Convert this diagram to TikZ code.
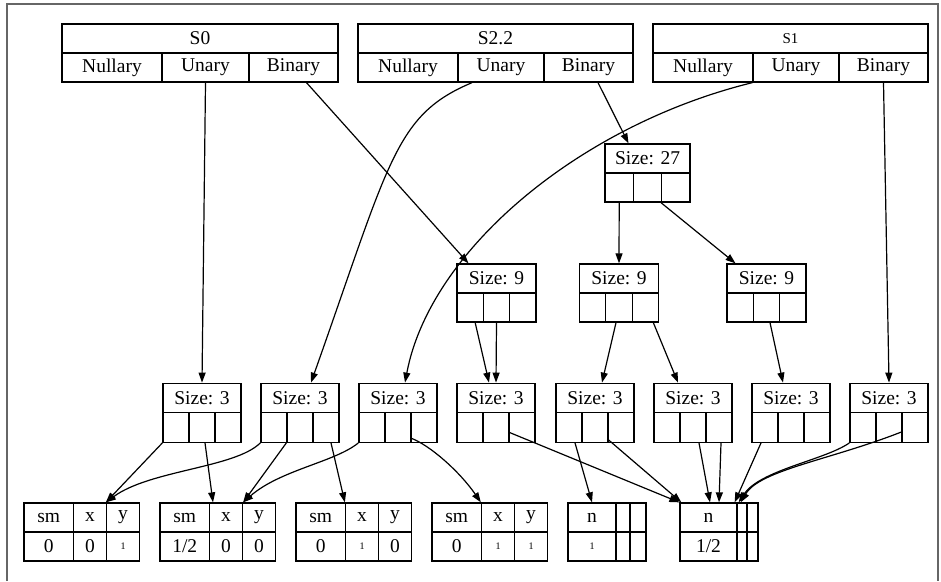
\documentclass[tikz,border=0pt]{standalone}
\usepackage{fontspec}
\setmainfont{Liberation Serif}
\usetikzlibrary{arrows.meta}

\begin{document}
\begin{tikzpicture}[x=1pt,y=-1pt,
  cell/.style={draw,line width=1.3pt,inner sep=0pt,minimum height=29pt,font=\fontsize{19.5}{22}\selectfont},
  small/.style={font=\fontsize{10}{11}\selectfont},
  link/.style={->,>={Triangle[length=10pt,width=7pt]},line width=1.2pt}]
         \useasboundingbox (0,0) rectangle (941,581);
         \draw[line width=1.5pt,black!60] (7,581) -- (7,4) -- (938,4) -- (938,581);

         % operator tables
         \node[cell,minimum width=276pt](s0) at (200,38.5) {S0};
         \node[cell,minimum width=100pt](s0n) at (112,67.5) {Nullary};
         \node[cell,minimum width=87pt](s0u) at (205.5,67.5) {Unary};
         \node[cell,minimum width=89pt](s0b) at (293.5,67.5) {Binary};

         \node[cell,minimum width=275pt](s22) at (495.5,38.5) {S2.2};
         \node[cell,minimum width=100pt](s22n) at (408,67.5) {Nullary};
         \node[cell,minimum width=86pt](s22u) at (501,67.5) {Unary};
         \node[cell,minimum width=89pt](s22b) at (588.5,67.5) {Binary};

         \node[cell,minimum width=275pt,font=\fontsize{15}{18}\selectfont](s1) at (790.5,38.5) {S1};
         \node[cell,minimum width=100pt](s1n) at (703,67.5) {Nullary};
         \node[cell,minimum width=86pt](s1u) at (796,67.5) {Unary};
         \node[cell,minimum width=89pt](s1b) at (883.5,67.5) {Binary};

         % size boxes
         \node[cell,minimum width=85pt](z27) at (647.5,158.5) {Size: 27};
         \node[cell,minimum width=28.33pt](z27a) at (619.2,187.5) {};
         \node[cell,minimum width=28.33pt](z27b) at (647.5,187.5) {};
         \node[cell,minimum width=28.33pt](z27c) at (675.8,187.5) {};

         \foreach \i/\x in {1/496.5,2/619,3/766.5}{
           \node[cell,minimum width=79pt](nine\i) at (\x,278.5) {Size: 9};
           \node[cell,minimum width=26.33pt](nine\i a) at (\x-26.33,307.5) {};
           \node[cell,minimum width=26.33pt](nine\i b) at (\x,307.5) {};
           \node[cell,minimum width=26.33pt](nine\i c) at (\x+26.33,307.5) {};
         }

         \foreach \i/\x in {1/202,2/300,3/398,4/496,5/595,6/693,7/791,8/889}{
           \node[cell,minimum width=78pt,minimum height=29.5pt](three\i) at (\x,398) {Size: 3};
           \node[cell,minimum width=26pt,minimum height=29.5pt](three\i a) at (\x-26,427.5) {};
           \node[cell,minimum width=26pt,minimum height=29.5pt](three\i b) at (\x,427.5) {};
           \node[cell,minimum width=26pt,minimum height=29.5pt](three\i c) at (\x+26,427.5) {};
         }

         % leaves
         \node[cell,minimum width=49.5pt](Asm) at (48.75,517.5) {sm};
         \node[cell,minimum width=33pt](Ax) at (90,517.5) {x};
         \node[cell,minimum width=33pt](Ay) at (123,517.5) {y};
         \node[cell,minimum width=49.5pt](Asmv) at (48.75,546.5) {0};
         \node[cell,minimum width=33pt](Axv) at (90,546.5) {0};
         \node[cell,small,minimum width=33pt](Ayv) at (123,546.5) {1};

         \node[cell,minimum width=49.5pt](Bsm) at (184.75,517.5) {sm};
         \node[cell,minimum width=33pt](Bx) at (226,517.5) {x};
         \node[cell,minimum width=33pt](By) at (259,517.5) {y};
         \node[cell,minimum width=49.5pt](Bsmv) at (184.75,546.5) {1/2};
         \node[cell,minimum width=33pt](Bxv) at (226,546.5) {0};
         \node[cell,minimum width=33pt](Byv) at (259,546.5) {0};

         \node[cell,minimum width=49.5pt](Csm) at (320.75,517.5) {sm};
         \node[cell,minimum width=33pt](Cx) at (362,517.5) {x};
         \node[cell,minimum width=33pt](Cy) at (395,517.5) {y};
         \node[cell,minimum width=49.5pt](Csmv) at (320.75,546.5) {0};
         \node[cell,small,minimum width=33pt](Cxv) at (362,546.5) {1};
         \node[cell,minimum width=33pt](Cyv) at (395,546.5) {0};

         \node[cell,minimum width=49.5pt](Dsm) at (456.75,517.5) {sm};
         \node[cell,minimum width=33pt](Dx) at (498,517.5) {x};
         \node[cell,minimum width=33pt](Dy) at (531,517.5) {y};
         \node[cell,minimum width=49.5pt](Dsmv) at (456.75,546.5) {0};
         \node[cell,small,minimum width=33pt](Dxv) at (498,546.5) {1};
         \node[cell,small,minimum width=33pt](Dyv) at (531,546.5) {1};

         \node[cell,minimum width=48pt](Pn) at (592,517.5) {n};
         \node[cell,minimum width=14pt](Pa) at (623,517.5) {};
         \node[cell,minimum width=16pt](Pb) at (638,517.5) {};
         \node[cell,small,minimum width=48pt](Pnv) at (592,546.5) {1};
         \node[cell,minimum width=14pt](Pav) at (623,546.5) {};
         \node[cell,minimum width=16pt](Pbv) at (638,546.5) {};

         \node[cell,minimum width=57pt](Qn) at (708.5,517.5) {n};
         \node[cell,minimum width=10pt](Qa) at (742,517.5) {};
         \node[cell,minimum width=11pt](Qb) at (752.5,517.5) {};
         \node[cell,minimum width=57pt](Qnv) at (708.5,546.5) {1/2};
         \node[cell,minimum width=10pt](Qav) at (742,546.5) {};
         \node[cell,minimum width=11pt](Qbv) at (752.5,546.5) {};

         % links
         \draw[link](s0u.south) -- (three1.north);
         \draw[link]([xshift=13pt]s0b.south) -- ([xshift=-28pt]nine1.north);
         \draw[link]([xshift=-29pt]s22u.south) .. controls (395,115) and (390,160) .. ([xshift=11pt]three2.north);
         \draw[link]([xshift=9.5pt]s22b.south) -- ([xshift=-19pt]z27.north);
         \draw[link](s1u.south west) .. controls (580,125) and (430,250) .. ([xshift=7pt]three3.north);
         \draw[link](s1b.south) -- (three8.north);

         \draw[link](z27a.south) -- (nine2.north);
         \draw[link](z27c.south west) -- ([xshift=-31pt]nine3.north);

         \draw[link]([xshift=5pt]nine1a.south) -- ([xshift=-7pt]three4.north);
         \draw[link](nine1b.south) -- (three4.north);
         \draw[link]([xshift=-3pt]nine2b.south) -- ([xshift=7pt]three5.north);
         \draw[link]([xshift=8pt]nine2c.south) -- ([xshift=-15pt]three6.north);
         \draw[link]([xshift=3.5pt]nine3b.south) -- ([xshift=-8pt]three7.north);

         \draw[link](three1a.south west) -- (Ay.north west);
         \draw[link]([xshift=3pt]three1b.south) -- ([xshift=-13pt]Bx.north);
         \draw[link](three2a.south west) .. controls (235,468) and (150,470) .. (Ay.north west);
         \draw[link](three2b.south west) -- (Bx.north east);
         \draw[link]([xshift=5pt]three2c.south) -- (Cx.north west);
         \draw[link](three3a.south west) .. controls (335,462) and (280,470) .. (Bx.north east);
         \draw[link]([yshift=5pt]three3c.south west) .. controls (430,445) and (460,472) .. (Dx.north west);
         \draw[link]([yshift=-4.5pt]three4c.west) -- (Qn.north west);
         \draw[link]([xshift=6pt]three5a.south) -- (Pn.north);
         \draw[link]([yshift=4pt]three5c.south west) -- ([xshift=2pt]Qn.north west);
         \draw[link]([xshift=6pt]three6b.south) -- ([xshift=1.5pt]Qn.north);
         \draw[link]([xshift=2pt]three6c.south) -- ([xshift=10.5pt]Qn.north);
         \draw[link]([xshift=-4pt]three7a.south) -- ([xshift=-3pt]Qn.north east);
         \draw[link](three8a.south west) .. controls (825,460) and (760,470) .. ([xshift=1pt]Qn.north east);
         \draw[link]([yshift=-4.5pt]three8c.west) .. controls (830,460) and (760,470) .. ([xshift=3pt]Qn.north east);
\end{tikzpicture}
\end{document}
